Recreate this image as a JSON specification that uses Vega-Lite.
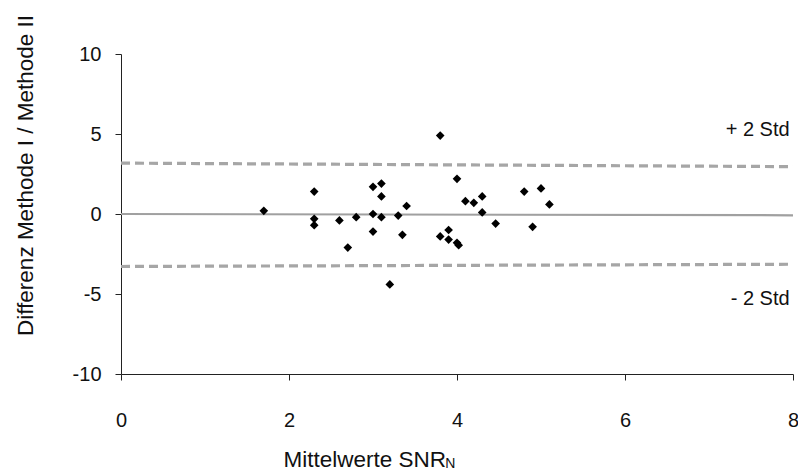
{
  "$schema": "https://vega.github.io/schema/vega-lite/v6.json",
  "width": 672,
  "height": 320,
  "autosize": {"type": "none"},
  "padding": {"left": 121, "top": 54, "right": 5, "bottom": 96},
  "background": "white",
  "config": {
    "view": {"stroke": null},
    "font": "Liberation Sans",
    "axis": {"grid": false, "domainColor": "#222222", "tickColor": "#222222", "labelColor": "#111111", "titleColor": "#111111", "labelFont": "Liberation Sans", "titleFont": "Liberation Sans", "titleFontWeight": "normal", "labelFontSize": 20, "titleFontSize": 22.5, "tickSize": 6, "domainWidth": 1, "tickWidth": 1, "labelFlush": false}
  },
  "datasets": {
    "points": [
      {"mean": 1.7, "diff": 0.2},
      {"mean": 2.3, "diff": 1.4},
      {"mean": 2.3, "diff": -0.3},
      {"mean": 2.3, "diff": -0.7},
      {"mean": 2.6, "diff": -0.4},
      {"mean": 2.7, "diff": -2.1},
      {"mean": 2.8, "diff": -0.2},
      {"mean": 3.0, "diff": 1.7},
      {"mean": 3.1, "diff": 1.9},
      {"mean": 3.1, "diff": 1.1},
      {"mean": 3.0, "diff": 0.0},
      {"mean": 3.1, "diff": -0.2},
      {"mean": 3.3, "diff": -0.1},
      {"mean": 3.0, "diff": -1.1},
      {"mean": 3.2, "diff": -4.4},
      {"mean": 3.35, "diff": -1.3},
      {"mean": 3.4, "diff": 0.5},
      {"mean": 3.8, "diff": 4.9},
      {"mean": 4.0, "diff": 2.2},
      {"mean": 3.8, "diff": -1.4},
      {"mean": 3.9, "diff": -1.0},
      {"mean": 3.9, "diff": -1.6},
      {"mean": 4.0, "diff": -1.8},
      {"mean": 4.02, "diff": -1.95},
      {"mean": 4.1, "diff": 0.8},
      {"mean": 4.2, "diff": 0.7},
      {"mean": 4.3, "diff": 1.1},
      {"mean": 4.3, "diff": 0.1},
      {"mean": 4.46, "diff": -0.6},
      {"mean": 4.8, "diff": 1.4},
      {"mean": 4.9, "diff": -0.8},
      {"mean": 5.0, "diff": 1.6},
      {"mean": 5.1, "diff": 0.6}
    ],
    "limits": [
      {"series": "upper", "x": 0, "y": 3.18},
      {"series": "upper", "x": 8, "y": 2.96},
      {"series": "lower", "x": 0, "y": -3.28},
      {"series": "lower", "x": 8, "y": -3.14}
    ],
    "meanline": [
      {"x": 0, "y": 0.0},
      {"x": 8, "y": -0.08}
    ],
    "labels": [
      {"x": 7.96, "y": 5.28, "text": "+ 2 Std"},
      {"x": 7.96, "y": -5.34, "text": "- 2 Std"}
    ],
    "sub": [
      {"x": 3.86, "y": -15.9, "text": "N"}
    ]
  },
  "layer": [
    {
      "data": {"name": "meanline"},
      "mark": {"type": "line", "color": "#A0A0A0", "strokeWidth": 2.2},
      "encoding": {
        "x": {"field": "x", "type": "quantitative", "scale": {"domain": [0, 8], "nice": false}, "axis": {"values": [0, 2, 4, 6, 8], "labelExpr": "'' + datum.value", "labelPadding": 30, "title": "Mittelwerte SNR", "titleAlign": "left", "titleAnchor": "start", "titleBaseline": "alphabetic", "titleX": 162, "titleY": 92}},
        "y": {"field": "y", "type": "quantitative", "scale": {"domain": [-10, 10], "nice": false}, "axis": {"values": [-10, -5, 0, 5, 10], "labelExpr": "'' + datum.value", "labelPadding": 14, "title": "Differenz Methode I / Methode II", "titleAngle": 270, "titleAlign": "center", "titleBaseline": "alphabetic", "titleX": -89, "titleY": 121}}
      }
    },
    {
      "data": {"name": "limits"},
      "mark": {"type": "line", "color": "#A6A6A6", "strokeWidth": 3.2, "strokeDash": [9, 5]},
      "encoding": {
        "x": {"field": "x", "type": "quantitative"},
        "y": {"field": "y", "type": "quantitative"},
        "detail": {"field": "series"}
      }
    },
    {
      "data": {"name": "points"},
      "mark": {"type": "point", "shape": "diamond", "filled": true, "color": "#000000", "size": 75, "opacity": 1},
      "encoding": {
        "x": {"field": "mean", "type": "quantitative"},
        "y": {"field": "diff", "type": "quantitative"}
      }
    },
    {
      "data": {"name": "labels"},
      "mark": {"type": "text", "align": "right", "baseline": "middle", "fontSize": 20, "color": "#111111", "font": "Liberation Sans"},
      "encoding": {
        "x": {"field": "x", "type": "quantitative"},
        "y": {"field": "y", "type": "quantitative"},
        "text": {"field": "text"}
      }
    },
    {
      "data": {"name": "sub"},
      "mark": {"type": "text", "align": "left", "baseline": "alphabetic", "fontSize": 14, "color": "#111111", "font": "Liberation Sans", "clip": false},
      "encoding": {
        "x": {"field": "x", "type": "quantitative"},
        "y": {"field": "y", "type": "quantitative"},
        "text": {"field": "text"}
      }
    }
  ]
}
